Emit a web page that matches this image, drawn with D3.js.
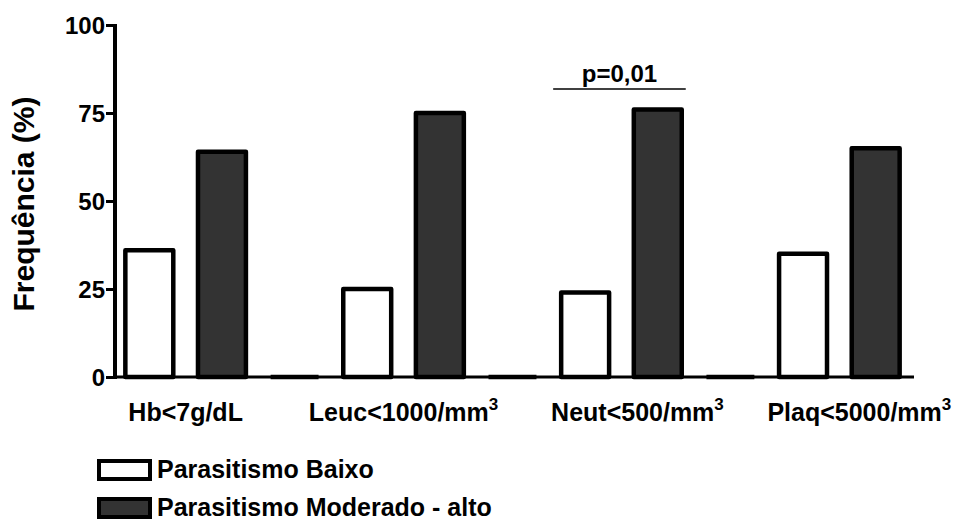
<!DOCTYPE html>
<html>
<head>
<meta charset="utf-8">
<script src="https://cdn.jsdelivr.net/npm/d3@7"></script>
<style>
  html, body { margin: 0; padding: 0; background: #fff; }
  text { font-family: "Liberation Sans", Arial, sans-serif; font-weight: bold; fill: #000; }
</style>
</head>
<body>
<svg id="chart" width="957" height="522"></svg>
<script>
// ---- data ----
const categories = ["Hb<7g/dL", "Leuc<1000/mm", "Neut<500/mm", "Plaq<5000/mm"];
const superscripts = ["", "3", "3", "3"];
const seriesNames = ["Parasitismo Baixo", "Parasitismo Moderado - alto"];
const baixo = [36, 25, 24, 35];
const moderado = [64, 75, 76, 65];
const yTicks = [0, 25, 50, 75, 100];
const annotation = { text: "p=0,01", category: 2 };

// ---- layout ----
const svg = d3.select("#chart");
const colors = ["#ffffff", "#333333"];
const labelShift = [0, 0, 16, 20];
const x0 = 113, x1 = 912, yTop = 25, yBase = 377;

// slots: white, dark, spacer per group (last group has no spacer)
const slots = [];
categories.forEach((c, i) => {
  slots.push({ key: i + "-0", cat: i, s: 0, v: baixo[i] });
  slots.push({ key: i + "-1", cat: i, s: 1, v: moderado[i] });
  if (i < categories.length - 1) slots.push({ key: i + "-2", cat: i, s: 2, v: 0 });
});

const x = d3.scaleBand().domain(slots.map(d => d.key)).range([x0, x1])
  .paddingInner(0.34).paddingOuter(0.17);
const y = d3.scaleLinear().domain([0, 100]).range([yBase, yTop]);

// bars
svg.append("g").selectAll("rect").data(slots.filter(d => d.s < 2)).join("rect")
  .attr("x", d => x(d.key))
  .attr("width", x.bandwidth())
  .attr("y", d => y(d.v))
  .attr("height", d => y(0) - y(d.v))
  .attr("fill", d => colors[d.s])
  .attr("stroke", "#000")
  .attr("stroke-width", 4.5)
  .attr("stroke-linejoin", "round");

// spacer zero-height bars
svg.append("g").selectAll("line").data(slots.filter(d => d.s === 2)).join("line")
  .attr("x1", d => x(d.key)).attr("x2", d => x(d.key) + x.bandwidth())
  .attr("y1", y(0)).attr("y2", y(0))
  .attr("stroke", "#000").attr("stroke-width", 4.5);

// x axis baseline
svg.append("line").attr("x1", x0).attr("x2", x1 + 2).attr("y1", y(0)).attr("y2", y(0))
  .attr("stroke", "#000").attr("stroke-width", 3);

// y axis
const yAxis = d3.axisLeft(y).tickValues(yTicks).tickSize(9).tickPadding(1).tickSizeOuter(0);
const gy = svg.append("g").attr("transform", `translate(${x0 + 2},0)`).call(yAxis);
gy.select(".domain").attr("stroke", "#000").attr("stroke-width", 4)
  .attr("d", `M0,${yTop - 1}V${yBase + 2}`);
gy.selectAll(".tick line").attr("stroke", "#000").attr("stroke-width", 3);
gy.selectAll(".tick text").style("font-size", "24px").style("font-weight", "bold")
  .style("font-family", '"Liberation Sans", Arial, sans-serif').attr("dy", "0.36em");

// y title
svg.append("text")
  .attr("transform", `translate(34,${(y(0) + y(100)) / 2 + 3}) rotate(-90)`)
  .attr("text-anchor", "middle")
  .style("font-size", "30px")
  .text("Frequência (%)");

// category labels
const lab = svg.append("g");
categories.forEach((c, i) => {
  const cx = (x(i + "-0") + x(i + "-1") + x.bandwidth()) / 2 + labelShift[i];
  const t = lab.append("text").attr("x", cx).attr("y", 421)
    .attr("text-anchor", "middle").style("font-size", "25px");
  t.append("tspan").text(c);
  if (superscripts[i]) {
    t.append("tspan").attr("dy", "-11").style("font-size", "17px").text(superscripts[i]);
  }
});

// annotation
{
  const i = annotation.category;
  const l = x(i + "-0") - 8, r = x(i + "-1") + x.bandwidth() + 4;
  svg.append("line").attr("x1", l).attr("x2", r).attr("y1", 89).attr("y2", 89)
    .attr("stroke", "#000").attr("stroke-width", 1.5);
  svg.append("text").attr("x", (l + r) / 2).attr("y", 82).attr("text-anchor", "middle")
    .style("font-size", "24px").text(annotation.text);
}

// legend
const lg = svg.append("g");
seriesNames.forEach((n, i) => {
  const cy = 470 + i * 38;
  lg.append("rect").attr("x", 99).attr("y", cy - 9).attr("width", 51).attr("height", 18)
    .attr("fill", colors[i]).attr("stroke", "#000").attr("stroke-width", 4);
  lg.append("text").attr("x", 157).attr("y", cy + 8).style("font-size", "25px").text(n);
});
</script>
</body>
</html>
